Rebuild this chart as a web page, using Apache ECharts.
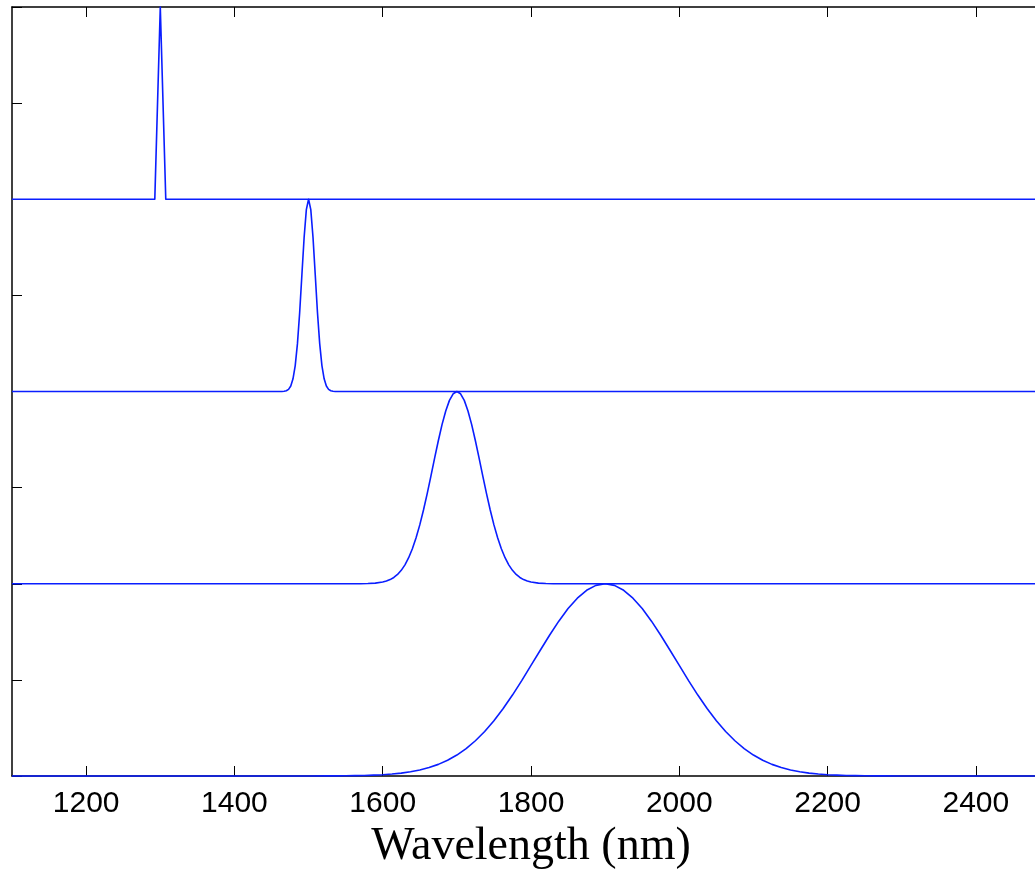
<!DOCTYPE html>
<html>
<head>
<meta charset="utf-8">
<script src="https://cdn.jsdelivr.net/npm/echarts@6/dist/echarts.min.js"></script>
<style>
  html, body { margin: 0; padding: 0; background: #fff; }
  #chart { width: 1035px; height: 872px; }
</style>
</head>
<body>
<div id="chart"></div>
<script>
// Wavelength tick marks (nm) and vertical tick marks (offset units)
const xTicks = [1200, 1400, 1600, 1800, 2000, 2200, 2400];
const yTicks = [0, 0.5, 1, 1.5, 2, 2.5, 3, 3.5, 4];

// Vertical offset of each spectrum's baseline
const offsets = [3, 2, 1, 0];

// Normalised spectra: [wavelength (nm), amplitude]
const spectrum1300 = [
  [1100, 0], [1292.6, 0], [1300, 1], [1307.4, 0], [2500, 0]
];

const spectrum1500 = [
  [1100, 0], [1460, 0], [1464, 0.0003], [1467, 0.0012], [1470, 0.0039], [1473, 0.0111],
  [1476, 0.0286], [1479, 0.066], [1482, 0.135], [1485, 0.249], [1488, 0.411], [1491, 0.607],
  [1494, 0.801], [1497, 0.946], [1500, 1], [1503, 0.946], [1506, 0.801], [1509, 0.607],
  [1512, 0.411], [1515, 0.249], [1518, 0.135], [1521, 0.066], [1524, 0.0286], [1527, 0.0111],
  [1530, 0.0039], [1533, 0.0012], [1536, 0.0003], [1540, 0], [2500, 0]
];

const spectrum1700 = [
  [1100, 0], [1560, 0], [1570, 0.0003], [1580, 0.0011], [1590, 0.0033], [1600, 0.0088],
  [1605, 0.0139], [1610, 0.0216], [1615, 0.0327], [1620, 0.0483], [1625, 0.0698],
  [1630, 0.0983], [1635, 0.1353], [1640, 0.182], [1645, 0.2388], [1650, 0.3062],
  [1655, 0.3834], [1660, 0.4689], [1665, 0.56], [1670, 0.6531], [1675, 0.7439],
  [1680, 0.8275], [1685, 0.899], [1690, 0.9538], [1695, 0.9882], [1700, 1],
  [1705, 0.9882], [1710, 0.9538], [1715, 0.899], [1720, 0.8275], [1725, 0.7439],
  [1730, 0.6531], [1735, 0.56], [1740, 0.4689], [1745, 0.3834], [1750, 0.3062],
  [1755, 0.2388], [1760, 0.182], [1765, 0.1353], [1770, 0.0983], [1775, 0.0698],
  [1780, 0.0483], [1785, 0.0327], [1790, 0.0216], [1795, 0.0139], [1800, 0.0088],
  [1810, 0.0033], [1820, 0.0011], [1830, 0.0003], [1840, 0], [2500, 0]
];

const spectrum1900 = [
  [1100, 0], [1450, 0], [1500, 0.0001], [1525, 0.0004], [1537.5, 0.0007], [1550, 0.0011],
  [1562.5, 0.0018], [1575, 0.0029], [1587.5, 0.0045], [1600, 0.0068], [1612.5, 0.0103],
  [1625, 0.0151], [1637.5, 0.022], [1650, 0.0313], [1662.5, 0.0439], [1675, 0.0605],
  [1687.5, 0.0819], [1700, 0.109], [1712.5, 0.1426], [1725, 0.1833], [1737.5, 0.2316],
  [1750, 0.2875], [1762.5, 0.3509], [1775, 0.421], [1787.5, 0.496], [1800, 0.575],
  [1812.5, 0.6543], [1825, 0.732], [1837.5, 0.8054], [1850, 0.871], [1862.5, 0.925],
  [1875, 0.966], [1887.5, 0.9914], [1900, 1], [1912.5, 0.9914], [1925, 0.966],
  [1937.5, 0.925], [1950, 0.871], [1962.5, 0.8054], [1975, 0.732], [1987.5, 0.6543],
  [2000, 0.575], [2012.5, 0.496], [2025, 0.421], [2037.5, 0.3509], [2050, 0.2875],
  [2062.5, 0.2316], [2075, 0.1833], [2087.5, 0.1426], [2100, 0.109], [2112.5, 0.0819],
  [2125, 0.0605], [2137.5, 0.0439], [2150, 0.0313], [2162.5, 0.022], [2175, 0.0151],
  [2187.5, 0.0103], [2200, 0.0068], [2212.5, 0.0045], [2225, 0.0029], [2237.5, 0.0018],
  [2250, 0.0011], [2262.5, 0.0007], [2275, 0.0004], [2300, 0.0001], [2350, 0], [2500, 0]
];

const spectra = [spectrum1300, spectrum1500, spectrum1700, spectrum1900];

const chart = echarts.init(document.getElementById('chart'), null, { renderer: 'canvas' });

const frameLine = { show: true, onZero: false, lineStyle: { color: '#000', width: 1.5 } };
const tickStyle = { color: '#000', width: 1 };

const series = spectra.map((pts, i) => ({
  type: 'line',
  data: pts.map(([x, y]) => [x, y + offsets[i]]),
  showSymbol: false,
  smooth: false,
  clip: false,
  lineStyle: { color: '#0a1eff', width: 1.6, join: 'round' },
  z: 3
}));

// The plot box runs a little past the right edge of the page (up to 2500 nm)
chart.setOption({
  animation: false,
  backgroundColor: '#fff',
  grid: {
    left: 12, width: 1038, top: 7, height: 769,
    containLabel: false, outerBoundsMode: 'none'
  },
  xAxis: [
    {
      type: 'value', min: 1100, max: 2500, position: 'bottom',
      axisLine: frameLine,
      axisTick: { show: true, inside: true, length: 10, customValues: xTicks, lineStyle: tickStyle },
      axisLabel: {
        show: true, customValues: xTicks, color: '#000', fontSize: 30,
        fontFamily: 'Liberation Sans, Arial, sans-serif', margin: 13,
        formatter: (v) => String(v)
      },
      splitLine: { show: false },
      name: 'Wavelength (nm)', nameLocation: 'middle', nameGap: 45,
      nameTextStyle: { color: '#000', fontSize: 46, fontFamily: 'Liberation Serif, Times New Roman, serif' }
    },
    {
      type: 'value', min: 1100, max: 2500, position: 'top',
      axisLine: frameLine,
      axisTick: { show: true, inside: true, length: 10, customValues: xTicks, lineStyle: tickStyle },
      axisLabel: { show: false },
      splitLine: { show: false }
    }
  ],
  yAxis: [
    {
      type: 'value', min: 0, max: 4, position: 'left',
      axisLine: frameLine,
      axisTick: { show: true, inside: true, length: 10, customValues: yTicks, lineStyle: tickStyle },
      axisLabel: { show: false },
      splitLine: { show: false }
    },
    {
      type: 'value', min: 0, max: 4, position: 'right',
      axisLine: frameLine,
      axisTick: { show: true, inside: true, length: 10, customValues: yTicks, lineStyle: tickStyle },
      axisLabel: { show: false },
      splitLine: { show: false }
    }
  ],
  series: series
});
</script>
</body>
</html>
